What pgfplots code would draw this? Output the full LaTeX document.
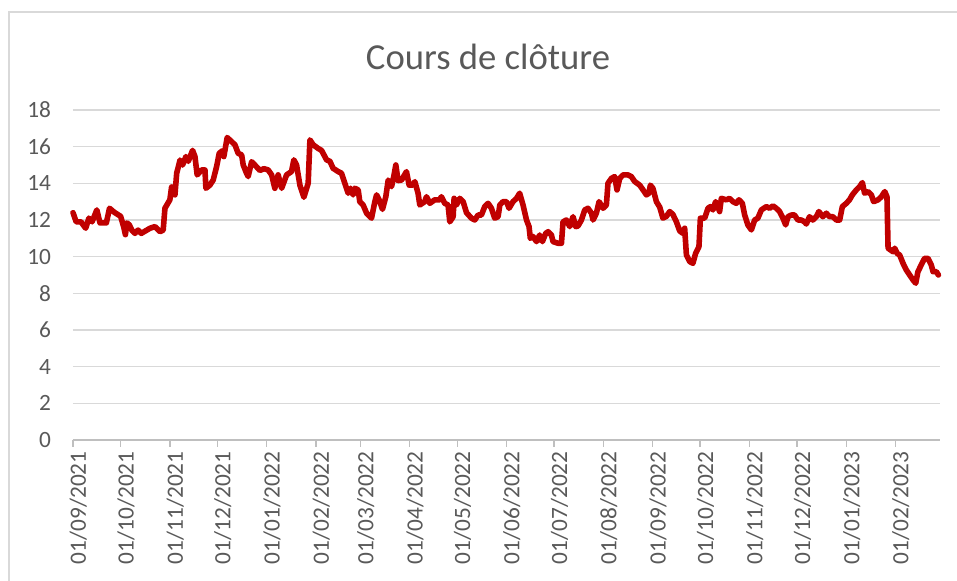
\documentclass[border=0pt]{standalone}
\usepackage{fontspec}
\setmainfont{Carlito}
\usepackage{pgfplots}
\pgfplotsset{compat=1.18}

\definecolor{ligne}{RGB}{192,0,0}
\definecolor{grille}{RGB}{217,217,217}
\definecolor{texte}{RGB}{89,89,89}
\definecolor{axe}{RGB}{191,191,191}

% x = jours depuis le 01/09/2021
\pgfplotstableread{
d v
0 12.4
2 11.9
5 11.9
8 11.55
10 12.1
12 11.9
15 12.55
17 11.84
21 11.84
23 12.64
26 12.42
30 12.2
32 11.6
33 11.2
34 11.84
35.5 11.73
37 11.45
39 11.27
41 11.45
43 11.27
48.5 11.55
51.6 11.64
54.8 11.36
56.8 11.45
57.9 12.64
61 13.1
62.1 13.8
64.2 13.37
65.3 14.55
67.4 15.27
69 15.0
71.1 15.46
72.6 15.2
75.3 15.8
76.8 15.46
78.2 14.46
81 14.73
83.1 14.73
83.7 13.73
86.2 13.9
88.3 14.18
90.4 14.9
92.1 15.64
94.2 15.78
95 15.46
97.1 16.5
99.9 16.27
102 16.1
104 15.64
106.2 15.55
107.2 15.0
109.3 14.55
110.3 14.37
112.5 15.18
115.6 14.9
117.7 14.7
120.2 14.8
122.9 14.73
125.1 14.46
127.1 13.73
129.2 14.46
131.4 13.73
134.5 14.46
137.6 14.64
139.1 15.28
140.8 15.0
142.9 13.9
145.4 13.24
148.1 14.0
149.2 16.37
151.3 16.1
154.4 15.9
156.5 15.8
159.7 15.28
161.8 15.2
163.8 14.82
167 14.64
169.1 14.55
171.2 14.0
173.3 13.46
174.8 13.73
176.4 13.37
177.5 13.73
179.6 13.64
180.6 13.0
182.7 12.82
184.9 12.37
188 12.1
190.1 13.0
191.2 13.37
192.8 13.1
194.9 12.58
197 13.27
198.5 14.18
200.6 13.82
202 14.37
203.3 15.0
204.7 14.15
206.9 14.18
210 14.64
211.7 13.9
213.8 13.9
215.3 14.09
217.3 13.46
218.4 12.82
221.5 13.0
222.6 13.27
224.7 12.91
227.8 13.1
231 13.1
232 13.27
234.1 12.91
236.2 12.82
237.3 11.9
239.4 12.18
240 13.18
241.5 12.82
243.6 13.18
245.7 13.0
247.8 12.4
250.9 12.1
253 12.0
255.1 12.27
257.2 12.27
259.3 12.73
261.4 12.91
263.5 12.64
265.6 12.1
267.7 12.18
268.8 12.82
270.8 13.0
273 13.0
274.6 12.64
277.1 13.0
279.3 13.18
281.3 13.46
283.4 12.82
285.6 12.0
287.2 11.64
288 11.0
289.7 11.1
291.9 10.82
293.9 11.18
295.6 10.82
297.7 11.27
299.2 11.36
301.3 11.18
302.3 10.82
305.5 10.73
307.6 10.73
308.6 11.9
310.7 12.0
312.8 11.64
314.9 12.18
316.6 11.64
318 11.67
320.2 12.0
322.3 12.55
324.3 12.64
326.5 12.37
327.5 12.0
329.6 12.37
331.3 13.0
333.8 12.64
335.9 12.82
336.9 14.0
339.1 14.27
341.1 14.37
342.6 13.64
344.3 14.27
346.4 14.46
349.5 14.46
351.6 14.37
353.7 14.1
356.9 13.9
359 13.64
361.1 13.37
362.7 13.46
363.6 13.9
365.2 13.73
367.4 13.0
369.5 12.7
371.5 12.1
373.7 12.2
375.8 12.46
377.8 12.3
380 11.9
382.1 11.4
384.1 11.27
385.2 11.55
386.3 10.09
388.4 9.73
390.4 9.64
392.1 10.18
394.2 10.55
395.1 12.1
397.8 12.1
399.9 12.64
401.4 12.73
403 12.55
404.7 13.0
406.2 12.73
407.2 12.46
408.3 13.18
411.4 13.1
413.5 13.18
415.6 13.0
417.7 12.91
419.4 13.1
421.5 12.91
423 12.27
425 11.73
427.2 11.46
429.3 12.0
431.3 12.1
433.5 12.55
436.6 12.73
438.7 12.64
440.8 12.77
442.9 12.64
445 12.46
447.1 12.1
448.8 11.73
450.3 12.18
452.4 12.27
454.4 12.27
456.5 12.0
458.6 12.0
460.7 11.9
461.8 11.78
463.8 12.18
465.9 12.0
468.1 12.18
469.7 12.46
472.2 12.18
474.4 12.37
476.4 12.18
478.5 12.18
480.7 12.0
482.8 12.0
484.5 12.73
487 12.91
489 13.1
490.8 13.37
493.3 13.64
495.4 13.82
497.1 14.04
498.5 13.46
500.6 13.55
502.8 13.37
504.2 13.0
507 13.1
509.1 13.27
511.2 13.55
512.6 13.27
513.3 10.46
516.4 10.27
517.5 10.46
519 10.18
520.6 10.09
522.7 9.64
524.8 9.27
526.9 9.0
529 8.73
530.7 8.55
532.1 9.18
534.2 9.55
536.3 9.91
538.4 9.91
540.5 9.55
541.6 9.18
543.7 9.18
545 9.0
}\cours

\begin{document}
\begin{tikzpicture}
\useasboundingbox (0,0) rectangle (717.75pt,435.75pt);
% cadre du graphique
\draw[color=grille, line width=0.8pt] (6.75pt,0) -- (6.75pt,426.75pt) -- (717.75pt,426.75pt);
\node[text=texte, font=\fontsize{27.5}{32}\selectfont] at (366pt,393pt) {Cours de clôture};
\begin{axis}[
    at={(54.75pt,105.75pt)},
    anchor=south west,
    scale only axis,
    width=650.25pt,
    height=247.5pt,
    xmin=0, xmax=546,
    ymin=0, ymax=18,
    ytick={0,2,...,18},
    xtick={0,30,61,91,122,153,181,212,242,273,303,334,365,395,426,456,487,518},
    xticklabels={01/09/2021,01/10/2021,01/11/2021,01/12/2021,01/01/2022,01/02/2022,01/03/2022,01/04/2022,01/05/2022,01/06/2022,01/07/2022,01/08/2022,01/09/2022,01/10/2022,01/11/2022,01/12/2022,01/01/2023,01/02/2023},
    axis x line*=bottom,
    axis y line*=left,
    y axis line style={draw=none},
    x axis line style={color=axe, line width=1.1pt},
    ytick style={draw=none},
    xtick style={color=axe, line width=1.1pt},
    tick align=outside,
    major tick length=5pt,
    ymajorgrids=true,
    grid style={color=grille, line width=1.2pt},
    /pgf/number format/assume math mode=true,
    tick label style={text=texte, font=\fontsize{17.5}{20}\selectfont},
    yticklabel style={anchor=east, xshift=-8pt},
    xticklabel style={rotate=90, anchor=east, yshift=-4pt},
    clip=false,
]
\addplot[color=ligne, line width=4.2pt, line join=round, line cap=round] table[x=d, y=v] {\cours};
\end{axis}
\end{tikzpicture}
\end{document}
